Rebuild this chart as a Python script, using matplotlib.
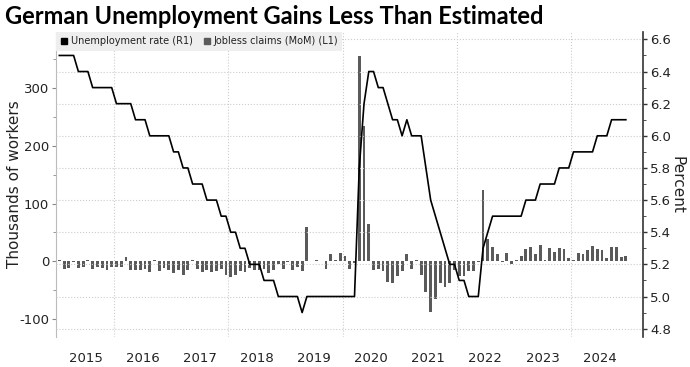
import numpy as np
import matplotlib
matplotlib.use("Agg")
import matplotlib.pyplot as plt
from matplotlib.lines import Line2D

plt.rcParams["axes.unicode_minus"] = False

# monthly, Jan 2015 .. Dec 2024
years = [str(y) for y in range(2015, 2025)]

# unemployment rate, percent (right axis)
rate = [
    6.5, 6.5, 6.5, 6.5, 6.4, 6.4, 6.4, 6.3, 6.3, 6.3, 6.3, 6.3,
    6.2, 6.2, 6.2, 6.2, 6.1, 6.1, 6.1, 6.0, 6.0, 6.0, 6.0, 6.0,
    5.9, 5.9, 5.8, 5.8, 5.7, 5.7, 5.7, 5.6, 5.6, 5.6, 5.5, 5.5,
    5.4, 5.4, 5.3, 5.3, 5.2, 5.2, 5.2, 5.1, 5.1, 5.1, 5.0, 5.0,
    5.0, 5.0, 5.0, 4.9, 5.0, 5.0, 5.0, 5.0, 5.0, 5.0, 5.0, 5.0,
    5.0, 5.0, 5.0, 5.8, 6.2, 6.4, 6.4, 6.3, 6.3, 6.2, 6.1, 6.1,
    6.0, 6.1, 6.0, 6.0, 6.0, 5.8, 5.6, 5.5, 5.4, 5.3, 5.2, 5.2,
    5.1, 5.1, 5.0, 5.0, 5.0, 5.3, 5.4, 5.5, 5.5, 5.5, 5.5, 5.5,
    5.5, 5.5, 5.6, 5.6, 5.6, 5.7, 5.7, 5.7, 5.7, 5.8, 5.8, 5.8,
    5.9, 5.9, 5.9, 5.9, 5.9, 6.0, 6.0, 6.0, 6.1, 6.1, 6.1, 6.1,
]

# jobless claims, month on month change, thousands (left axis)
claims = [
    2, -14, -12, -2, -12, -9, 3, -14, -10, -11, -15, -10,
    -10, -9, 7, -15, -15, -15, -14, -18, 2, -17, -12, -15,
    -20, -15, -23, -15, 2, -13, -18, -15, -19, -17, -13, -23,
    -27, -23, -17, -18, -12, -15, -15, -13, -21, -15, -5, -13,
    -2, -15, -10, -16, 59, 1, 2, 1, -13, 12, 3, 15,
    9, -13, -3, 356, 234, 64, -15, -13, -17, -36, -38, -26,
    -17, 12, -13, 2, -24, -53, -88, -65, -38, -44, -38, -15,
    -25, -25, -17, -16, -2, 123, 38, 25, 12, -1, 15, -5,
    2, 9, 22, 24, 12, 28, 2, 23, 17, 23, 22, 6,
    2, 15, 13, 19, 27, 21, 19, 5, 25, 25, 8, 10,
]

x = np.arange(len(rate))

fig = plt.figure(figsize=(6.9, 3.67), dpi=100)
ax = fig.add_axes([56 / 690, 1 - 337 / 367, 587 / 690, 305 / 367])
ax2 = ax.twinx()

ax.bar(x, claims, width=0.6, color="#5a5a5a", zorder=2)
ax2.plot(x, rate, color="black", lw=1.2, zorder=3)

ax.set_xlim(-0.7, 122.6)
ax.set_ylim(-131, 397)
ax2.set_ylim(4.748, 6.646)

# x axis: year labels centred, grid at every other January
ax.set_xticks([12 * k + 5.5 for k in range(len(years))])
ax.set_xticklabels(years, fontsize=9.5, color="#222222")
ax.set_xticks([12 * k - 0.5 for k in range(1, 10, 2)], minor=True)
ax.tick_params(axis="x", which="both", length=0, pad=11)
ax.grid(axis="x", which="minor", color="#cccccc", ls=":", lw=0.8)

ax.set_yticks([-100, 0, 100, 200, 300])
ax.set_yticks([-50, 50, 150, 250, 350], minor=True)
ax.tick_params(axis="y", which="major", length=3, color="#888888",
               labelsize=9.5, labelcolor="#222222", pad=2)
ax.tick_params(axis="y", which="minor", length=2, color="#888888")

ax2.set_yticks(np.arange(4.8, 6.61, 0.2))
ax2.set_yticks(np.arange(4.9, 6.61, 0.2), minor=True)
ax2.yaxis.set_major_formatter(plt.FormatStrFormatter("%.1f"))
ax2.tick_params(axis="y", which="major", length=3, width=1, color="#333333",
                labelsize=9.5, labelcolor="#222222", pad=2)
ax2.tick_params(axis="y", which="minor", length=2, color="#333333")
ax2.grid(axis="y", color="#cccccc", ls=":", lw=0.8)

for a in (ax, ax2):
    for s in ("top", "bottom"):
        a.spines[s].set_visible(False)
ax.spines["left"].set_color("#bbbbbb")
ax.spines["right"].set_visible(False)
ax2.spines["left"].set_visible(False)
ax2.spines["right"].set_color("#333333")
ax2.spines["right"].set_linewidth(1.2)

ax.set_ylabel("Thousands of workers", fontsize=11, color="#222222", va="center")
ax.yaxis.set_label_coords(-0.07, 0.5)
ax2.set_ylabel("Percent", fontsize=11, color="#222222", rotation=270, va="center")
ax2.yaxis.set_label_coords(1.058, 0.5)

handles = [
    Line2D([], [], marker="s", ls="none", color="black", markersize=5),
    Line2D([], [], marker="s", ls="none", color="#5a5a5a", markersize=5),
]
leg = ax2.legend(handles, ["Unemployment rate (R1)", "Jobless claims (MoM) (L1)"],
                 loc="upper left", bbox_to_anchor=(0, 1), borderaxespad=0,
                 ncol=2, fontsize=7, frameon=True, fancybox=False,
                 facecolor="#eeeeee", edgecolor="none", framealpha=1,
                 handlelength=0.8, handletextpad=0.3, columnspacing=1.0,
                 borderpad=0.45)
for t in leg.get_texts():
    t.set_color("#222222")

fig.text(0.007, 1 - 17 / 367, "German Unemployment Gains Less Than Estimated",
         fontsize=17, fontweight="bold", family="Lato", va="center", ha="left")

fig.savefig("out.png", dpi=100)
